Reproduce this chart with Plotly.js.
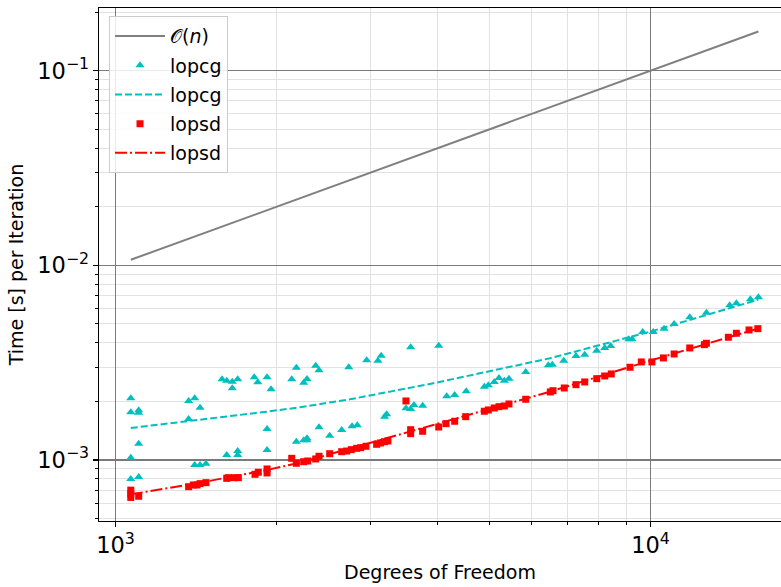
<!DOCTYPE html>
<html>
<head>
<meta charset="utf-8">
<script src="https://cdn.plot.ly/plotly-3.0.1.min.js"></script>
<style>html,body{margin:0;padding:0;background:#fff;overflow:hidden}</style>
</head>
<body>
<div id="chart" style="width:781px;height:587px"></div>
<script>
// O(n) reference line
const orderN = [1068, 15910];
const orderT = [0.01068, 0.1591];

// lopcg measurements (degrees of freedom, seconds per iteration)
const lopcgN = [1068,1068,1105,1105,1105,1068,1068,1105,
  1370,1406,1439,1370,1406,1439,1476,
  1582,1614,1614,1653,1692,1653,
  1817,1845,1920,1953,
  2178,2135,2248,2280,2367,2401,
  1920,1920,1692,1692,
  2178,2248,2280,2280,2401,2514,2647,
  2729,2948,3094,3138,3562,4019,
  2768,2831,3184,3212,3491,3562,3613,3751,4160,4305,4525,
  4891,4976,5105,5210,5330,5438,5845,6442,6553,6883,7256,7534,7934,8212,8426,9105,9236,9670,10120,10600,11070,11840,12720,14060,14470,15370,15910];
const lopcgT = [2.076e-3,1.758e-3,1.750e-3,1.80e-3,1.213e-3,1.028e-3,0.799e-3,0.818e-3,
  2.010e-3,2.076e-3,1.857e-3,1.624e-3,0.943e-3,0.943e-3,0.957e-3,
  2.598e-3,2.556e-3,1.061e-3,2.526e-3,2.598e-3,2.336e-3,
  2.661e-3,2.507e-3,2.661e-3,2.308e-3,
  2.981e-3,2.598e-3,2.495e-3,2.608e-3,3.052e-3,2.891e-3,
  1.443e-3,1.126e-3,1.112e-3,1.061e-3,
  1.242e-3,1.262e-3,1.293e-3,1.262e-3,1.472e-3,1.333e-3,1.426e-3,
  2.995e-3,3.253e-3,3.238e-3,3.436e-3,3.794e-3,3.868e-3,
  1.490e-3,1.508e-3,1.669e-3,1.717e-3,1.844e-3,1.829e-3,1.918e-3,1.901e-3,2.125e-3,2.158e-3,2.254e-3,
  2.380e-3,2.420e-3,2.517e-3,2.639e-3,2.556e-3,2.617e-3,2.833e-3,3.066e-3,3.088e-3,3.238e-3,3.423e-3,3.476e-3,3.646e-3,3.763e-3,3.853e-3,4.172e-3,4.172e-3,4.548e-3,4.548e-3,4.728e-3,5.000e-3,5.412e-3,5.714e-3,6.237e-3,6.387e-3,6.697e-3,6.858e-3];

// lopcg fitted curve
const lopcgFitN = [1068, 1398, 1917, 2213, 2745, 3927, 5703, 6489, 9980, 12720, 15910];
const lopcgFitT = [1.460e-3, 1.592e-3, 1.771e-3, 1.866e-3, 2.051e-3, 2.478e-3, 3.103e-3, 3.332e-3, 4.563e-3, 5.56e-3, 6.665e-3];

// lopsd measurements
const lopsdN = [1068,1068,1068,1105,
  1370,1398,1420,1439,1476,
  1614,1625,1668,1697,
  1823,1849,1920,1920,
  2135,2178,2248,2287,2367,2401,2514,
  2647,2705,2759,2824,2873,2939,3077,3130,3184,3230,
  3491,3562,3562,3751,4019,4147,4305,4514,
  4891,4976,5105,5210,5330,5438,5845,6497,6573,6900,
  7256,7534,7934,8212,8447,9156,9612,10060,10570,11070,11840,12610,12720,13980,14470,15280,15870];
const lopsdT = [0.700e-3,0.669e-3,0.642e-3,0.651e-3,
  0.729e-3,0.744e-3,0.744e-3,0.756e-3,0.765e-3,
  0.805e-3,0.811e-3,0.811e-3,0.811e-3,
  0.844e-3,0.865e-3,0.899e-3,0.858e-3,
  1.020e-3,0.962e-3,0.980e-3,0.988e-3,1.012e-3,1.045e-3,1.077e-3,
  1.103e-3,1.112e-3,1.130e-3,1.148e-3,1.157e-3,1.176e-3,1.204e-3,1.223e-3,1.242e-3,1.252e-3,
  2.010e-3,1.431e-3,1.365e-3,1.404e-3,1.477e-3,1.537e-3,1.581e-3,1.669e-3,
  1.780e-3,1.807e-3,1.850e-3,1.879e-3,1.894e-3,1.940e-3,2.051e-3,2.236e-3,2.270e-3,2.344e-3,
  2.438e-3,2.517e-3,2.617e-3,2.702e-3,2.767e-3,2.995e-3,3.189e-3,3.189e-3,3.344e-3,3.504e-3,3.763e-3,3.913e-3,3.978e-3,4.271e-3,4.478e-3,4.656e-3,4.728e-3];

// lopsd fitted curve
const lopsdFitN = [1068, 1398, 1917, 2213, 3927, 5703, 6489, 9980, 12610, 15870];
const lopsdFitT = [0.666e-3, 0.753e-3, 0.888e-3, 0.969e-3, 1.513e-3, 2.017e-3, 2.244e-3, 3.238e-3, 3.93e-3, 4.73e-3];

const CYAN = '#00bfbf', RED = '#ff0000', GRAY = '#808080';
const FONT = 'DejaVu Sans, sans-serif';

const traces = [
  {x: orderN, y: orderT, mode: 'lines', name: '\u{1D4AA}(<i>n</i>)', legendgroup: 'g1',
   line: {color: GRAY, width: 2}},
  {x: lopcgN, y: lopcgT, mode: 'markers', name: 'lopcg', legendgroup: 'g2',
   marker: {symbol: 'triangle-up', size: 8, color: CYAN}},
  {x: lopcgFitN, y: lopcgFitT, mode: 'lines', name: 'lopcg', legendgroup: 'g3',
   line: {color: CYAN, width: 2, dash: '7px,3px'}},
  {x: lopsdN, y: lopsdT, mode: 'markers', name: 'lopsd', legendgroup: 'g4',
   marker: {symbol: 'square', size: 7, color: RED}},
  {x: lopsdFitN, y: lopsdFitT, mode: 'lines', name: 'lopsd', legendgroup: 'g5',
   line: {color: RED, width: 2, dash: '12px,3px,2px,3px'}}
];

const axisCommon = {
  type: 'log', dtick: 1, exponentformat: 'power',
  showline: true, linecolor: '#000', linewidth: 1.3,
  ticks: 'outside', ticklen: 5, tickwidth: 1.3, tickcolor: '#000',
  showgrid: true, gridcolor: '#7a7a7a', gridwidth: 1.3,
  zeroline: false,
  tickfont: {family: FONT, size: 18, color: '#000'},
  minor: {dtick: 'D1', ticks: 'outside', ticklen: 3, tickwidth: 1, tickcolor: '#000',
          showgrid: true, gridcolor: '#e2e2e2', gridwidth: 1}
};

const layout = {
  width: 781, height: 587,
  margin: {l: 99, r: 0, t: 8, b: 66},
  paper_bgcolor: '#fff', plot_bgcolor: '#fff',
  font: {family: FONT, color: '#000'},
  showlegend: true,
  xaxis: Object.assign({}, axisCommon, {
    range: [2.9692, 4.2439], mirror: true,
    title: {text: 'Degrees of Freedom', font: {family: FONT, size: 19}, standoff: 8}
  }),
  yaxis: Object.assign({}, axisCommon, {
    range: [-3.3135, -0.6778],
    title: {text: 'Time [s] per Iteration', font: {family: FONT, size: 19}, standoff: 8}
  }),
  legend: {
    x: 0.0147, y: 0.984, xanchor: 'left', yanchor: 'top',
    bgcolor: 'rgba(255,255,255,0.85)', bordercolor: '#cccccc', borderwidth: 1,
    font: {family: FONT, size: 19, color: '#000'},
    itemwidth: 50, tracegroupgap: 1.5, traceorder: 'grouped'
  }
};

Plotly.newPlot('chart', traces, layout, {displayModeBar: false, staticPlot: true});
</script>
</body>
</html>
